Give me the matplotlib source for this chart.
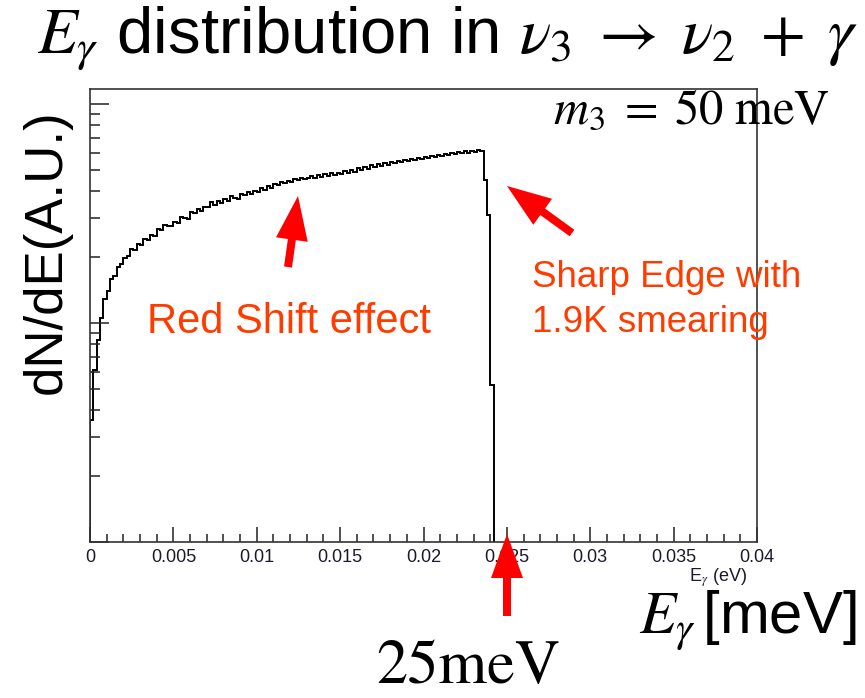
import numpy as np
import matplotlib
matplotlib.use("Agg")
import matplotlib.pyplot as plt
from matplotlib.ticker import MultipleLocator, NullFormatter
from matplotlib.patches import FancyArrow

plt.rcParams["mathtext.fontset"] = "stix"
plt.rcParams["font.family"] = ["Liberation Sans", "DejaVu Sans"]

# histogram of E_gamma (eV), bin width 0.0002, counts
bin_width = 0.0002
counts = [360, 610, 840, 1050, 1290, 1400, 1590, 1640, 1800, 1850,
          1990, 2020, 2170, 2150, 2290, 2270, 2420, 2390, 2530, 2490,
          2680, 2650, 2800, 2770, 2760, 2900, 2850, 3040, 3020, 2990,
          3210, 3170, 3330, 3230, 3400, 3390, 3560, 3450, 3620, 3540,
          3700, 3600, 3790, 3730, 3700, 3890, 3820, 3980, 3870, 4000,
          3950, 4130, 4060, 4240, 4150, 4330, 4280, 4420, 4340, 4460,
          4400, 4560, 4480, 4610, 4540, 4590, 4700, 4600, 4740, 4650,
          4780, 4700, 4830, 4720, 4850, 4790, 4920, 4830, 4990, 4900,
          5080, 4980, 5140, 5060, 5240, 5150, 5310, 5220, 5370, 5280,
          5430, 5350, 5500, 5410, 5540, 5460, 5620, 5530, 5670, 5580,
          5740, 5650, 5790, 5700, 5850, 5770, 5910, 5830, 5960, 5880,
          6020, 5960, 6080, 5990, 6120, 6060, 6150, 6090,
          4500, 3100, 520]
edges = np.arange(len(counts) + 1) * bin_width

xticks = [0, 0.005, 0.01, 0.015, 0.02, 0.025, 0.03, 0.035, 0.04]
xticklabels = ["0", "0.005", "0.01", "0.015", "0.02", "0.025", "0.03", "0.035", "0.04"]

W, H = 865, 698
fig = plt.figure(figsize=(W / 100, H / 100), dpi=100)


def fx(x):
    return x / W


def fy(y):
    return 1 - y / H


ax = fig.add_axes([fx(90), fy(542), (757 - 90) / W, (542 - 89) / H])
ax.stairs(counts, edges, baseline=1, color="black", lw=1.4)

ax.set_xlim(0, 0.04)
ax.set_yscale("log")
ax.set_ylim(100, 11700)
ax.set_xticks(xticks)
ax.set_xticklabels(xticklabels, fontsize=13, color="#1a1a2a")
ax.xaxis.set_minor_locator(MultipleLocator(0.001))
ax.yaxis.set_major_formatter(NullFormatter())
ax.yaxis.set_minor_formatter(NullFormatter())
ax.tick_params(which="both", direction="in", top=False, right=False, width=1.1, color="#222222")
ax.tick_params(axis="x", which="major", length=11, pad=5)
ax.tick_params(axis="x", which="minor", length=5.5)
ax.tick_params(axis="y", which="major", length=14)
ax.tick_params(axis="y", which="minor", length=7)
for s in ax.spines.values():
    s.set_linewidth(1.2)
    s.set_color("#333333")

# texts
fig.text(fx(447), fy(53), r"$E_\gamma$ distribution in $\nu_3 \;\rightarrow\; \nu_2 \;+\; \gamma$",
         fontsize=47, ha="center", va="baseline")
fig.text(fx(553), fy(123), r"$m_3 \;=\; 50\ \mathrm{meV}$", fontsize=35, ha="left", va="baseline")
fig.text(fx(47), fy(252), "dN/dE(A.U.)", fontsize=38, rotation=90, ha="center", va="center")
fig.text(fx(747), fy(582), r"E$_\gamma$ (eV)", fontsize=13, ha="right", va="baseline", color="#1a1a2a")
fig.text(fx(856), fy(633), r"$E_\gamma\,$[meV]", fontsize=43, ha="right", va="baseline")
fig.text(fx(376), fy(683), "25meV", fontsize=45, family="STIXGeneral", ha="left", va="baseline")

orange = "#FF3C00"
fig.text(fx(147), fy(333), "Red Shift effect", fontsize=30, color=orange, ha="left", va="baseline")
fig.text(fx(532), fy(287), "Sharp Edge with", fontsize=26.5, color=orange, ha="left", va="baseline")
fig.text(fx(532), fy(332), "1.9K smearing", fontsize=26.5, color=orange, ha="left", va="baseline")


def arrow(x0, y0, x1, y1):
    a = FancyArrow(x0 / 100, (H - y0) / 100, (x1 - x0) / 100, -(y1 - y0) / 100,
                   width=0.08, head_width=0.32, head_length=0.44,
                   length_includes_head=True, color="#FF0000", lw=0,
                   transform=fig.dpi_scale_trans)
    fig.add_artist(a)


arrow(288, 267, 298, 196)
arrow(572, 233, 507, 186)
arrow(507, 616, 507, 534)

fig.savefig("out.png", dpi=100)
